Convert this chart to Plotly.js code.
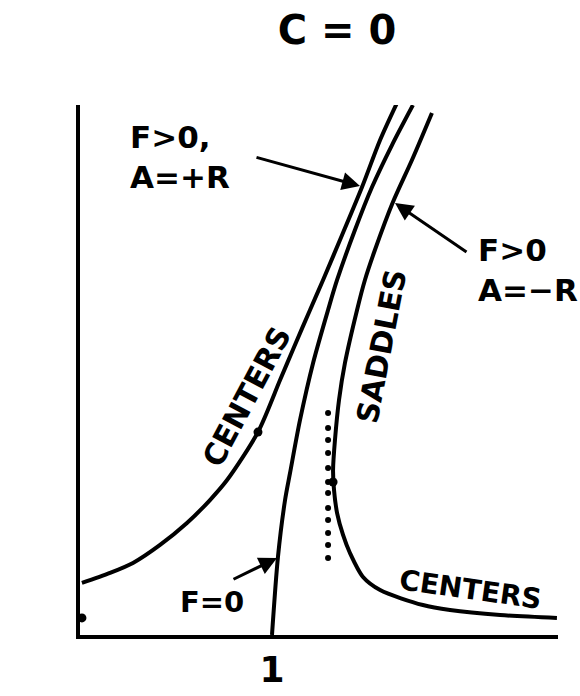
<!DOCTYPE html>
<html>
<head>
<meta charset="utf-8">
<script src="https://cdn.plot.ly/plotly-3.0.1.min.js"></script>
<style>html,body{margin:0;padding:0;background:#fff;}#chart{width:580px;height:696px;}</style>
</head>
<body>
<div id="chart"></div>
<script>
// Curve "F>0, A=+R" (centers, left branch)
const curveA_w = [0.010,0.156,0.276,0.417,0.557,0.677,0.766,0.927,1.042,1.115,1.198,1.266,1.365,1.469,1.563,1.651];
const curveA_R = [0.271,0.323,0.375,0.469,0.583,0.703,0.807,1.057,1.328,1.500,1.693,1.849,2.083,2.333,2.578,2.771];
// Curve "F=0"
const curveB_w = [1.000,1.031,1.068,1.094,1.146,1.214,1.292,1.339,1.432,1.521,1.625,1.734];
const curveB_R = [0.000,0.406,0.703,0.844,1.120,1.417,1.693,1.849,2.109,2.333,2.552,2.760];
// Curve "F>0, A=-R" (saddles above, centers below)
const curveC_w = [1.833,1.729,1.630,1.536,1.484,1.443,1.380,1.349,1.328,1.318,1.323,1.339,1.370,1.406,1.474,1.563,1.786,1.927,2.188,2.484];
const curveC_R = [2.719,2.474,2.255,2.005,1.849,1.693,1.417,1.224,1.016,0.859,0.755,0.635,0.521,0.427,0.302,0.234,0.156,0.130,0.104,0.089];
// Marked points
const dots_w = [0.927,1.318,0.010];
const dots_R = [1.057,0.797,0.089];
// Dotted vertical guide
const dotted_w = [1.292,1.292,1.292,1.292,1.292,1.292,1.292,1.292,1.292,1.292,1.292,1.292];
const dotted_R = [1.156,1.078,1.016,0.948,0.870,0.797,0.740,0.661,0.599,0.531,0.469,0.401];
// Tick labels
const xTickVals = [1];
const xTickText = ["1"];

const FONT = "DejaVu Sans";
const W0 = 80, H0 = 635, S = 192; // pixel->data helper for label placement only
function dx(p){ return (p - W0) / S; }
function dy(p){ return (H0 - p) / S; }

const lineStyle = {color:'#000', width:4, shape:'spline', smoothing:0.8};
const traces = [
  {x:curveA_w, y:curveA_R, mode:'lines', line:lineStyle, cliponaxis:false, hoverinfo:'skip'},
  {x:curveB_w, y:curveB_R, mode:'lines', line:lineStyle, cliponaxis:false, hoverinfo:'skip'},
  {x:curveC_w, y:curveC_R, mode:'lines', line:lineStyle, cliponaxis:false, hoverinfo:'skip'},
  {x:dotted_w, y:dotted_R, mode:'markers', marker:{color:'#000', size:6}, cliponaxis:false, hoverinfo:'skip'},
  {x:dots_w, y:dots_R, mode:'markers', marker:{color:'#000', size:9}, cliponaxis:false, hoverinfo:'skip'}
];

function label(text, px, py, size, angle, align){
  return {x:dx(px), y:dy(py), xref:'x', yref:'y', text:text, showarrow:false,
    font:{family:FONT, size:size, color:'#000', weight:'bold'}, textangle:angle||0, align:align||'center',
    xanchor:'center', yanchor:'middle'};
}
function arrow(tipX, tipY, tailX, tailY){
  return {x:dx(tipX), y:dy(tipY), ax:dx(tailX), ay:dy(tailY), xref:'x', yref:'y', axref:'x', ayref:'y',
    text:'', showarrow:true, arrowhead:2, arrowsize:1.2, arrowwidth:3, arrowcolor:'#000'};
}

const annotations = [
  label('R', 27, 131, 44),
  label('ω', 540, 670, 40),
  label('F&gt;0,<br>A=+R', 180, 157, 31, 0, 'left'),
  label('F&gt;0<br>A=−R', 528, 270, 31, 0, 'left'),
  label('F=0', 212, 602, 29),
  label('CENTERS', 246, 397, 30, -62),
  label('SADDLES', 381, 346, 30, -79),
  label('CENTERS', 470, 589, 28, 8),
  arrow(360, 186, 255, 157),
  arrow(395, 203, 468, 253),
  arrow(277, 558, 232, 580)
];

const layout = {
  width:580, height:696,
  margin:{l:80, r:22, t:105, b:61},
  paper_bgcolor:'#fff', plot_bgcolor:'#fff',
  showlegend:false,
  title:{text:'C = 0', x:337/580, xanchor:'center', y:1-30/696, yanchor:'middle', font:{family:FONT, size:40, color:'#000', weight:'bold'}},
  xaxis:{range:[0, 478/S], showgrid:false, zeroline:false, showline:true, linewidth:4, linecolor:'#000',
    tickvals:xTickVals, ticktext:xTickText, ticks:'', tickfont:{family:FONT, size:36, color:'#000', weight:'bold'}, ticklabelstandoff:0, fixedrange:true},
  yaxis:{range:[0, 530/S], showgrid:false, zeroline:false, showline:true, linewidth:4, linecolor:'#000',
    showticklabels:false, ticks:'', fixedrange:true},
  annotations:annotations
};

Plotly.newPlot('chart', traces, layout, {staticPlot:true, displayModeBar:false});
</script>
</body>
</html>
